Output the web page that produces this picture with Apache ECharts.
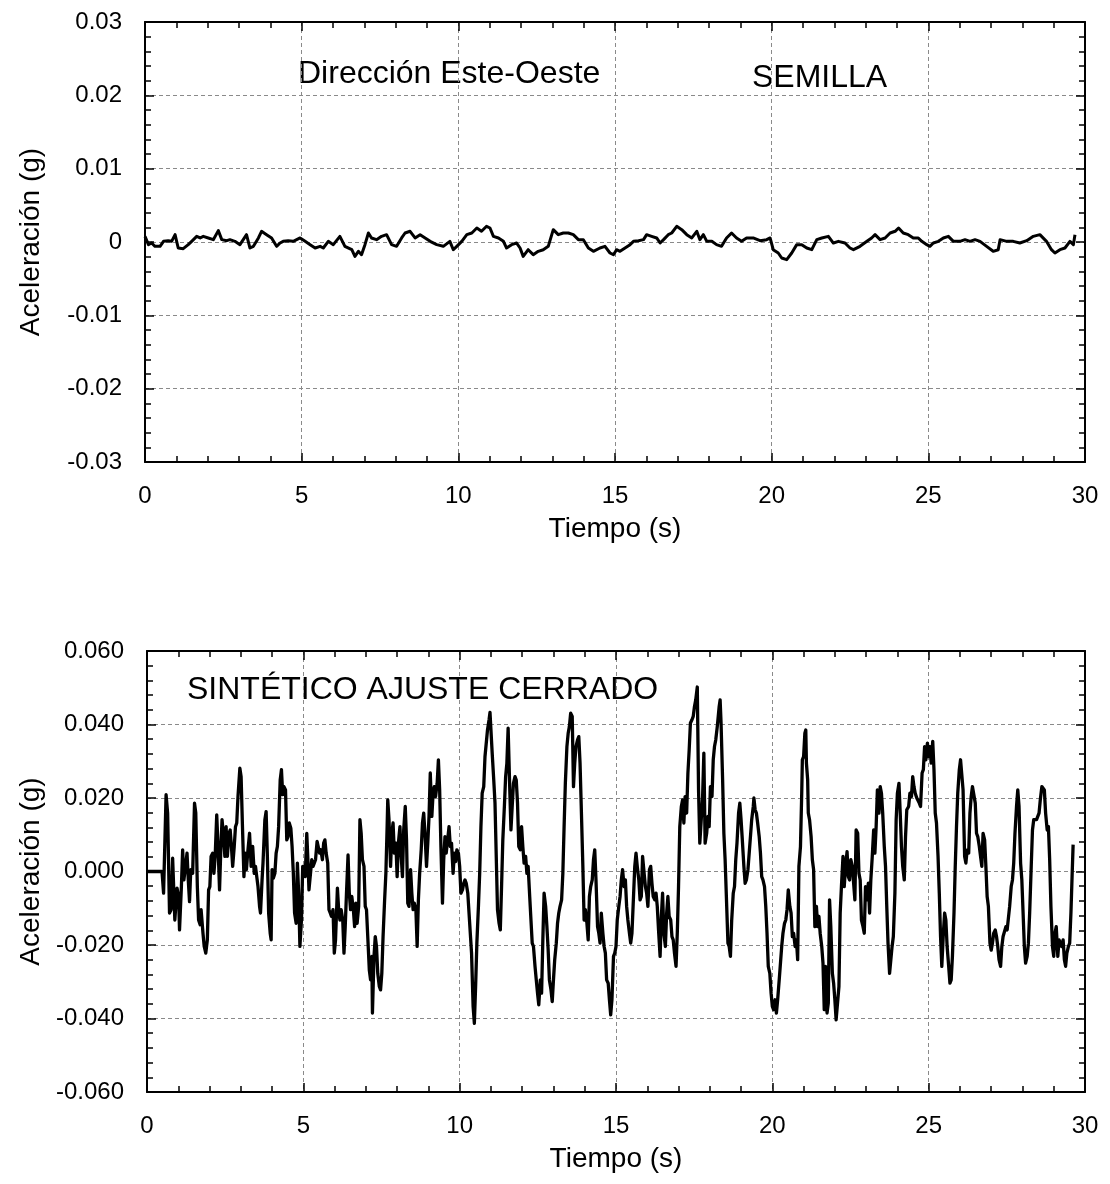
<!DOCTYPE html>
<html>
<head>
<meta charset="utf-8">
<script src="https://cdn.jsdelivr.net/npm/echarts@6/dist/echarts.min.js"></script>
<style>
  html, body { margin: 0; padding: 0; background: #fff; }
  #chart { width: 1110px; height: 1184px; }
</style>
</head>
<body>
<div id="chart"></div>
<script>
// Seed record, east-west component: [time (s), acceleration (g)]
const semillaRecord = [
  [0.00,0.00077],[0.11,-0.00036],[0.21,-0.00014],[0.32,-0.00059],[0.48,-0.00059],[0.59,0.00009],[0.74,0.00018],[0.85,0.00009],[0.96,0.00100],[1.06,-0.00082],
  [1.22,-0.00091],[1.38,-0.00036],[1.49,0.00009],[1.65,0.00077],[1.76,0.00055],[1.86,0.00077],[2.02,0.00055],[2.18,0.00032],[2.34,0.00155],[2.45,0.00032],
  [2.61,0.00018],[2.71,0.00032],[2.87,0.00009],[3.03,-0.00036],[3.24,0.00100],[3.35,-0.00082],[3.46,-0.00059],[3.62,0.00055],[3.72,0.00146],[3.88,0.00100],
  [4.04,0.00055],[4.20,-0.00059],[4.31,-0.00014],[4.41,0.00009],[4.57,0.00018],[4.73,0.00009],[4.95,0.00055],[5.11,0.00009],[5.27,-0.00036],[5.43,-0.00082],
  [5.59,-0.00059],[5.69,-0.00082],[5.85,0.00009],[6.01,-0.00036],[6.22,0.00077],[6.38,-0.00059],[6.60,-0.00105],[6.70,-0.00196],[6.81,-0.00127],[6.91,-0.00173],
  [7.02,-0.00036],[7.13,0.00123],[7.23,0.00055],[7.39,0.00032],[7.55,0.00077],[7.71,0.00100],[7.87,-0.00036],[8.03,-0.00059],[8.19,0.00055],[8.30,0.00123],
  [8.46,0.00146],[8.62,0.00055],[8.78,0.00100],[8.94,0.00055],[9.10,0.00009],[9.31,-0.00036],[9.52,-0.00059],[9.73,0.00009],[9.84,-0.00105],[9.95,-0.00059],
  [10.11,0.00009],[10.27,0.00100],[10.43,0.00123],[10.59,0.00191],[10.74,0.00146],[10.90,0.00214],[11.01,0.00191],[11.12,0.00077],[11.28,0.00055],[11.44,0.00009],
  [11.54,-0.00082],[11.70,-0.00036],[11.86,-0.00014],[11.97,-0.00082],[12.07,-0.00196],[12.23,-0.00105],[12.39,-0.00173],[12.55,-0.00127],[12.71,-0.00105],[12.87,-0.00059],
  [13.03,0.00168],[13.19,0.00100],[13.35,0.00123],[13.51,0.00123],[13.67,0.00100],[13.83,0.00032],[13.99,0.00032],[14.15,-0.00082],[14.31,-0.00127],[14.52,-0.00082],
  [14.68,-0.00059],[14.84,-0.00150],[14.95,-0.00173],[15.05,-0.00105],[15.16,-0.00127],[15.32,-0.00082],[15.48,-0.00036],[15.59,0.00009],[15.75,0.00018],[15.91,0.00032],
  [16.01,0.00100],[16.17,0.00077],[16.33,0.00055],[16.44,-0.00014],[16.55,0.00032],[16.70,0.00100],[16.81,0.00123],[16.97,0.00214],[17.13,0.00168],[17.29,0.00100],
  [17.45,0.00055],[17.61,0.00146],[17.71,0.00032],[17.82,0.00100],[17.93,0.00009],[18.09,0.00009],[18.24,-0.00036],[18.40,-0.00059],[18.56,0.00055],[18.72,0.00123],
  [18.88,0.00055],[19.04,0.00009],[19.20,0.00055],[19.41,0.00055],[19.63,0.00018],[19.84,0.00032],[19.95,0.00055],[20.05,-0.00105],[20.21,-0.00150],[20.32,-0.00218],
  [20.48,-0.00241],[20.64,-0.00150],[20.80,-0.00036],[20.96,-0.00036],[21.12,-0.00082],[21.28,-0.00105],[21.44,0.00032],[21.60,0.00055],[21.81,0.00077],[21.97,-0.00014],
  [22.13,0.00009],[22.34,-0.00014],[22.50,-0.00082],[22.61,-0.00105],[22.82,-0.00059],[23.04,0.00009],[23.19,0.00055],[23.30,0.00100],[23.46,0.00032],[23.62,0.00055],
  [23.78,0.00123],[23.94,0.00146],[24.05,0.00191],[24.20,0.00123],[24.36,0.00100],[24.52,0.00055],[24.68,0.00055],[24.79,0.00009],[24.95,-0.00036],[25.05,-0.00059],
  [25.16,-0.00014],[25.32,0.00009],[25.48,0.00055],[25.64,0.00077],[25.80,0.00009],[26.01,0.00009],[26.17,0.00032],[26.33,0.00009],[26.49,0.00032],[26.65,0.00009],
  [26.86,-0.00059],[27.07,-0.00127],[27.23,-0.00105],[27.29,0.00032],[27.50,0.00009],[27.71,0.00009],[27.92,-0.00014],[28.14,0.00018],[28.35,0.00077],[28.56,0.00100],
  [28.77,0.00009],[28.93,-0.00105],[29.04,-0.00150],[29.20,-0.00105],[29.36,-0.00082],[29.52,0.00009],[29.63,-0.00036],[29.68,0.00100]
];

// Synthetic record (closely fitted spectrum): [time (s), acceleration (g)]
const sinteticoRecord = [
  [0,0],[0.48,0],[0.53,-0.0059],[0.61,0.0209],[0.66,0.0159],[0.72,-0.0113],[0.77,-0.0104],[0.82,0.0036],[0.85,0.0032],[0.89,-0.0132],
  [0.96,-0.0045],[1.01,-0.0068],[1.04,-0.0159],[1.10,-0.0041],[1.14,0.0059],[1.18,-0.0023],[1.23,-0.0018],[1.28,0.0050],[1.32,-0.0023],[1.36,-0.0082],
  [1.40,0.0005],[1.46,-0.0005],[1.52,0.0186],[1.56,0.0159],[1.61,-0.0041],[1.65,-0.0132],[1.70,-0.0145],[1.73,-0.0104],[1.79,-0.0168],[1.83,-0.0204],
  [1.88,-0.0222],[1.93,-0.0186],[1.97,-0.0050],[2.01,-0.0041],[2.05,0.0041],[2.10,0.0050],[2.14,-0.0005],[2.18,0.0041],[2.23,0.0154],[2.28,0.0050],
  [2.32,-0.0050],[2.36,0.0059],[2.40,0.0141],[2.45,0.0095],[2.49,0.0041],[2.53,0.0122],[2.57,0.0041],[2.62,0.0104],[2.66,0.0113],[2.70,0.0068],
  [2.74,0.0014],[2.79,0.0068],[2.83,0.0122],[2.87,0.0132],[2.91,0.0204],[2.97,0.0281],[3.01,0.0258],[3.05,0.0132],[3.10,-0.0014],[3.14,0.0050],
  [3.18,0.0005],[3.22,0.0050],[3.28,0.0104],[3.33,0.0014],[3.38,0.0068],[3.43,-0.0005],[3.47,0.0014],[3.51,-0.0014],[3.55,-0.0041],[3.60,-0.0095],
  [3.63,-0.0113],[3.68,-0.0023],[3.71,0.0023],[3.77,0.0141],[3.81,0.0163],[3.85,0.0041],[3.89,-0.0113],[3.94,-0.0168],[3.97,-0.0186],[4.00,0.0005],
  [4.04,-0.0018],[4.09,-0.0005],[4.13,0.0050],[4.17,0.0068],[4.21,0.0122],[4.26,0.0249],[4.30,0.0277],[4.34,0.0209],[4.38,0.0231],[4.43,0.0222],
  [4.47,0.0086],[4.51,0.0095],[4.55,0.0132],[4.60,0.0118],[4.64,0.0068],[4.68,-0.0005],[4.72,-0.0113],[4.77,-0.0141],[4.81,0.0023],[4.85,-0.0059],
  [4.89,-0.0204],[4.94,-0.0132],[4.98,0.0014],[5.02,0.0014],[5.06,-0.0014],[5.11,0.0104],[5.15,0.0023],[5.18,-0.0050],[5.22,-0.0050],[5.27,0.0032],
  [5.31,0.0014],[5.35,0.0023],[5.39,0.0032],[5.44,0.0082],[5.48,0.0077],[5.52,0.0050],[5.56,0.0059],[5.61,0.0032],[5.65,0.0077],[5.69,0.0086],
  [5.73,0.0050],[5.78,0.0023],[5.82,-0.0104],[5.86,-0.0113],[5.90,-0.0122],[5.95,-0.0104],[5.99,-0.0222],[6.03,-0.0186],[6.09,-0.0045],[6.13,-0.0104],
  [6.17,-0.0132],[6.21,-0.0104],[6.26,-0.0132],[6.30,-0.0222],[6.34,-0.0150],[6.38,-0.0059],[6.43,0.0045],[6.47,-0.0059],[6.51,-0.0104],[6.55,-0.0068],
  [6.60,-0.0104],[6.64,-0.0150],[6.68,-0.0086],[6.72,-0.0141],[6.77,-0.0095],[6.81,0.0141],[6.85,0.0104],[6.89,0.0032],[6.94,0.0014],[6.98,-0.0095],
  [7.02,-0.0104],[7.06,-0.0177],[7.11,-0.0268],[7.15,-0.0295],[7.19,-0.0231],[7.21,-0.0385],[7.26,-0.0231],[7.30,-0.0177],[7.34,-0.0204],[7.38,-0.0277],
  [7.43,-0.0313],[7.47,-0.0322],[7.51,-0.0277],[7.55,-0.0177],[7.60,-0.0077],[7.64,-0.0005],[7.68,0.0122],[7.70,0.0195],[7.74,0.0141],[7.79,0.0014],
  [7.83,0.0104],[7.87,0.0132],[7.91,0.0050],[7.96,0.0077],[8.00,-0.0014],[8.04,0.0077],[8.09,0.0122],[8.13,0.0041],[8.17,-0.0014],[8.21,0.0113],
  [8.26,0.0177],[8.30,0.0086],[8.34,-0.0086],[8.38,-0.0095],[8.43,0.0005],[8.47,-0.0059],[8.51,-0.0104],[8.55,-0.0086],[8.60,-0.0104],[8.64,-0.0204],
  [8.68,-0.0077],[8.72,-0.0005],[8.77,0.0059],[8.81,0.0132],[8.85,0.0159],[8.89,0.0104],[8.94,0.0014],[8.98,0.0077],[9.02,0.0150],[9.06,0.0268],
  [9.11,0.0150],[9.15,0.0213],[9.19,0.0231],[9.23,0.0204],[9.28,0.0240],[9.32,0.0304],[9.36,0.0222],[9.40,0.0068],[9.45,-0.0086],[9.49,0.0032],
  [9.53,0.0095],[9.57,0.0050],[9.62,0.0050],[9.66,0.0122],[9.70,0.0068],[9.74,0.0077],[9.79,-0.0005],[9.83,0.0050],[9.87,0.0027],[9.91,0.0059],
  [9.96,0.0050],[10.00,0.0014],[10.04,-0.0059],[10.09,-0.0050],[10.13,-0.0032],[10.17,-0.0023],[10.21,-0.0032],[10.26,-0.0059],[10.30,-0.0113],[10.34,-0.0168],
  [10.38,-0.0222],[10.43,-0.0367],[10.47,-0.0413],[10.51,-0.0313],[10.55,-0.0195],[10.60,-0.0095],[10.64,-0.0005],[10.68,0.0122],[10.72,0.0213],[10.77,0.0231],
  [10.81,0.0313],[10.85,0.0349],[10.89,0.0385],[10.94,0.0413],[10.97,0.0433],[11.00,0.0431],[11.04,0.0322],[11.09,0.0249],[11.13,0.0186],[11.17,0.0041],
  [11.21,-0.0104],[11.26,-0.0141],[11.30,-0.0159],[11.34,-0.0041],[11.38,0.0086],[11.43,0.0177],[11.47,0.0258],[11.51,0.0295],[11.55,0.0390],[11.60,0.0231],
  [11.64,0.0113],[11.68,0.0177],[11.72,0.0240],[11.77,0.0258],[11.81,0.0249],[11.85,0.0186],[11.89,0.0068],[11.94,0.0059],[11.98,0.0122],[12.02,0.0068],
  [12.06,0.0023],[12.11,0.0041],[12.15,-0.0005],[12.19,0.0014],[12.24,-0.0068],[12.28,-0.0132],[12.32,-0.0195],[12.36,-0.0204],[12.41,-0.0258],[12.45,-0.0295],
  [12.49,-0.0331],[12.53,-0.0363],[12.58,-0.0295],[12.62,-0.0331],[12.66,-0.0186],[12.70,-0.0059],[12.75,-0.0095],[12.79,-0.0150],[12.83,-0.0213],[12.87,-0.0295],
  [12.92,-0.0322],[12.96,-0.0354],[13.00,-0.0295],[13.04,-0.0240],[13.09,-0.0195],[13.13,-0.0141],[13.17,-0.0113],[13.21,-0.0095],[13.26,-0.0077],[13.30,-0.0005],
  [13.34,0.0122],[13.38,0.0240],[13.43,0.0340],[13.47,0.0376],[13.51,0.0395],[13.55,0.0431],[13.60,0.0422],[13.64,0.0231],[13.68,0.0295],[13.72,0.0340],
  [13.77,0.0358],[13.81,0.0367],[13.85,0.0295],[13.90,0.0141],[13.94,0.0014],[13.98,-0.0132],[14.02,-0.0104],[14.07,-0.0141],[14.11,-0.0186],[14.15,-0.0068],
  [14.19,-0.0041],[14.24,-0.0023],[14.28,0.0032],[14.32,0.0059],[14.36,-0.0023],[14.41,-0.0150],[14.45,-0.0168],[14.49,-0.0195],[14.53,-0.0113],[14.58,-0.0168],
  [14.62,-0.0204],[14.66,-0.0222],[14.70,-0.0295],[14.75,-0.0304],[14.79,-0.0349],[14.83,-0.0390],[14.87,-0.0349],[14.92,-0.0231],[14.96,-0.0222],[15.00,-0.0204],
  [15.04,-0.0132],[15.09,-0.0095],[15.13,-0.0068],[15.17,-0.0023],[15.21,0.0005],[15.26,-0.0041],[15.30,-0.0023],[15.34,-0.0095],[15.38,-0.0132],[15.43,-0.0168],
  [15.47,-0.0195],[15.51,-0.0168],[15.56,-0.0068],[15.60,0.0014],[15.64,0.0050],[15.68,0.0014],[15.73,-0.0023],[15.77,-0.0077],[15.81,-0.0068],[15.85,0.0041],
  [15.90,-0.0005],[15.94,-0.0041],[15.98,-0.0059],[16.02,-0.0095],[16.07,0.0005],[16.11,0.0014],[16.15,-0.0032],[16.19,-0.0068],[16.24,-0.0077],[16.28,-0.0059],
  [16.32,-0.0095],[16.36,-0.0159],[16.41,-0.0231],[16.45,-0.0123],[16.49,-0.0059],[16.53,-0.0168],[16.58,-0.0204],[16.62,-0.0113],[16.66,-0.0068],[16.70,-0.0122],
  [16.75,-0.0132],[16.79,-0.0177],[16.83,-0.0186],[16.87,-0.0222],[16.92,-0.0258],[16.96,-0.0168],[17.00,-0.0041],[17.04,0.0122],[17.09,0.0177],[17.13,0.0195],
  [17.17,0.0132],[17.21,0.0204],[17.26,0.0159],[17.30,0.0268],[17.34,0.0330],[17.38,0.0404],[17.43,0.0413],[17.47,0.0422],[17.51,0.0449],[17.55,0.0467],
  [17.60,0.0502],[17.64,0.0222],[17.68,0.0077],[17.72,0.0132],[17.77,0.0204],[17.81,0.0322],[17.85,0.0077],[17.90,0.0104],[17.94,0.0150],[17.98,0.0122],
  [18.02,0.0231],[18.07,0.0204],[18.11,0.0304],[18.15,0.0340],[18.19,0.0358],[18.24,0.0395],[18.26,0.0413],[18.30,0.0449],[18.33,0.0467],[18.36,0.0404],
  [18.41,0.0249],[18.45,0.0104],[18.49,0.0032],[18.53,-0.0068],[18.58,-0.0195],[18.62,-0.0204],[18.66,-0.0231],[18.70,-0.0133],[18.75,-0.0059],[18.79,-0.0041],
  [18.83,0.0032],[18.87,0.0078],[18.92,0.0159],[18.96,0.0186],[19.00,0.0141],[19.04,0.0086],[19.09,0.0014],[19.13,-0.0032],[19.17,-0.0023],[19.22,0.0005],
  [19.26,0.0050],[19.30,0.0095],[19.34,0.0141],[19.39,0.0177],[19.41,0.0200],[19.45,0.0168],[19.49,0.0159],[19.53,0.0132],[19.58,0.0095],[19.62,0.0050],
  [19.66,-0.0014],[19.70,-0.0023],[19.75,-0.0041],[19.79,-0.0095],[19.83,-0.0168],[19.87,-0.0258],[19.92,-0.0277],[19.96,-0.0331],[20.00,-0.0367],[20.04,-0.0376],
  [20.09,-0.0349],[20.13,-0.0385],[20.17,-0.0349],[20.22,-0.0295],[20.26,-0.0249],[20.30,-0.0204],[20.34,-0.0168],[20.39,-0.0141],[20.43,-0.0132],[20.47,-0.0104],
  [20.51,-0.0050],[20.56,-0.0095],[20.60,-0.0113],[20.64,-0.0177],[20.68,-0.0168],[20.73,-0.0204],[20.77,-0.0186],[20.81,-0.0240],[20.85,0.0014],[20.90,0.0068],
  [20.94,0.0213],[20.96,0.0304],[21.00,0.0313],[21.04,0.0376],[21.07,0.0385],[21.09,0.0295],[21.13,0.0249],[21.15,0.0159],[21.19,0.0141],[21.24,0.0095],
  [21.28,0.0032],[21.32,0.0005],[21.36,-0.0150],[21.41,-0.0095],[21.45,-0.0150],[21.49,-0.0122],[21.53,-0.0168],[21.58,-0.0204],[21.62,-0.0249],[21.66,-0.0376],
  [21.70,-0.0258],[21.75,-0.0385],[21.79,-0.0358],[21.83,-0.0077],[21.87,-0.0150],[21.92,-0.0277],[21.96,-0.0304],[22.00,-0.0349],[22.04,-0.0404],[22.09,-0.0408],
  [22.13,-0.0313],[22.17,-0.0113],[22.21,-0.0041],[22.26,0.0041],[22.30,-0.0041],[22.34,0.0014],[22.39,0.0054],[22.43,-0.0014],[22.47,-0.0023],[22.51,0.0032],
  [22.56,0.0014],[22.60,-0.0032],[22.64,-0.0077],[22.68,0.0113],[22.73,0.0104],[22.77,-0.0005],[22.81,-0.0023],[22.85,-0.0132],[22.90,-0.0150],[22.94,-0.0168],
  [22.98,-0.0041],[23.02,-0.0077],[23.07,-0.0032],[23.11,-0.0113],[23.15,-0.0023],[23.19,0.0032],[23.24,0.0113],[23.28,0.0050],[23.32,0.0122],[23.36,0.0222],
  [23.41,0.0159],[23.45,0.0231],[23.49,0.0213],[23.53,0.0159],[23.58,0.0068],[23.62,0.0014],[23.66,-0.0095],[23.70,-0.0195],[23.75,-0.0277],[23.79,-0.0277],
  [23.83,-0.0204],[23.87,-0.0177],[23.92,-0.0059],[23.96,0.0141],[24.00,0.0213],[24.05,0.0240],[24.09,0.0159],[24.13,0.0068],[24.17,0.0014],[24.22,-0.0023],
  [24.26,0.0095],[24.30,0.0168],[24.36,0.0177],[24.40,0.0213],[24.45,0.0204],[24.49,0.0258],[24.53,0.0231],[24.57,0.0213],[24.62,0.0200],[24.66,0.0200],
  [24.70,0.0186],[24.74,0.0177],[24.79,0.0268],[24.83,0.0277],[24.87,0.0340],[24.91,0.0304],[24.96,0.0349],[25.00,0.0313],[25.04,0.0340],[25.08,0.0295],
  [25.13,0.0354],[25.17,0.0277],[25.21,0.0159],[25.25,0.0132],[25.30,0.0041],[25.34,-0.0059],[25.38,-0.0177],[25.42,-0.0258],[25.47,-0.0168],[25.51,-0.0113],
  [25.55,-0.0132],[25.59,-0.0204],[25.64,-0.0258],[25.68,-0.0304],[25.72,-0.0295],[25.76,-0.0231],[25.81,-0.0113],[25.85,0.0014],[25.89,0.0122],[25.93,0.0213],
  [25.98,0.0277],[26.02,0.0304],[26.06,0.0308],[26.10,0.0222],[26.15,0.0041],[26.19,0.0023],[26.23,0.0058],[26.28,0.0050],[26.32,0.0159],[26.36,0.0204],
  [26.40,0.0231],[26.45,0.0231],[26.49,0.0186],[26.53,0.0104],[26.57,0.0095],[26.62,0.0068],[26.66,0.0041],[26.70,0.0014],[26.74,0.0104],[26.79,0.0086],
  [26.83,0.0014],[26.87,-0.0068],[26.91,-0.0095],[26.96,-0.0195],[27.00,-0.0214],[27.04,-0.0195],[27.08,-0.0168],[27.13,-0.0159],[27.17,-0.0177],[27.21,-0.0204],
  [27.25,-0.0240],[27.30,-0.0258],[27.34,-0.0204],[27.38,-0.0177],[27.42,-0.0172],[27.47,-0.0150],[27.51,-0.0159],[27.55,-0.0159],[27.59,-0.0095],[27.64,-0.0041],
  [27.68,-0.0023],[27.72,0.0023],[27.76,0.0104],[27.81,0.0177],[27.85,0.0222],[27.89,0.0177],[27.94,0.0023],[27.98,-0.0023],[28.02,-0.0113],[28.06,-0.0204],
  [28.10,-0.0249],[28.15,-0.0231],[28.19,-0.0195],[28.23,-0.0113],[28.28,0.0014],[28.32,0.0113],[28.36,0.0141],[28.40,0.0141],[28.45,0.0141],[28.49,0.0150],
  [28.53,0.0159],[28.57,0.0195],[28.62,0.0231],[28.66,0.0236],[28.70,0.0222],[28.74,0.0159],[28.79,0.0113],[28.83,0.0122],[28.87,0.0032],[28.91,-0.0095],
  [28.96,-0.0204],[29.00,-0.0231],[29.04,-0.0168],[29.08,-0.0150],[29.13,-0.0231],[29.17,-0.0186],[29.21,-0.0195],[29.25,-0.0204],[29.30,-0.0186],[29.34,-0.0240],
  [29.38,-0.0258],[29.42,-0.0222],[29.47,-0.0204],[29.51,-0.0195],[29.55,-0.0113],[29.59,-0.0005],[29.62,0.0073]
];

// Axis ranges: [min, max, interval]
const timeRange = [0, 30, 5];
const semillaRange = [-0.03, 0.03, 0.01];
const sinteticoRange = [-0.06, 0.06, 0.02];

const FONT = '"Liberation Sans", Arial, Helvetica, sans-serif';
const BLACK = '#000';

// Bottom axis with labels and grid, plus a mirrored top axis carrying inward ticks only
function xAxisPair(gridIndex) {
  const common = {
    type: 'value', gridIndex: gridIndex,
    min: timeRange[0], max: timeRange[1], interval: timeRange[2],
    axisLine: { show: true, onZero: false, lineStyle: { color: BLACK, width: 2 } },
    axisTick: { show: true, inside: true, length: 9, lineStyle: { color: BLACK, width: 1.5 } },
    minorTick: { show: true, splitNumber: 5, length: 6, lineStyle: { color: BLACK, width: 1.5 } }
  };
  return [
    Object.assign({}, common, {
      position: 'bottom',
      splitLine: { show: true, lineStyle: { color: '#8a8a8a', width: 1, type: [4, 3] } },
      axisLabel: { color: BLACK, fontSize: 24, fontFamily: FONT, margin: 22 },
      name: 'Tiempo (s)', nameLocation: 'middle', nameGap: 53,
      nameTextStyle: { color: BLACK, fontSize: 28, fontFamily: FONT }
    }),
    Object.assign({}, common, {
      position: 'top',
      splitLine: { show: false },
      axisLabel: { show: false }
    })
  ];
}

// Left axis with labels and grid, plus a mirrored right axis carrying inward ticks only
function yAxisPair(gridIndex, range, fmt) {
  const common = {
    type: 'value', gridIndex: gridIndex,
    min: range[0], max: range[1], interval: range[2],
    axisLine: { show: true, onZero: false, lineStyle: { color: BLACK, width: 2 } },
    axisTick: { show: true, inside: true, length: 9, lineStyle: { color: BLACK, width: 1.5 } },
    minorTick: { show: true, splitNumber: 5, length: 6, lineStyle: { color: BLACK, width: 1.5 } }
  };
  return [
    Object.assign({}, common, {
      position: 'left',
      splitLine: { show: true, lineStyle: { color: '#8a8a8a', width: 1, type: [4, 3] } },
      axisLabel: { color: BLACK, fontSize: 24, fontFamily: FONT, margin: 23, formatter: fmt },
      name: 'Aceleración (g)', nameLocation: 'middle', nameGap: 100,
      nameTextStyle: { color: BLACK, fontSize: 28, fontFamily: FONT }
    }),
    Object.assign({}, common, {
      position: 'right',
      splitLine: { show: false },
      axisLabel: { show: false }
    })
  ];
}

const fmtTop = v => Math.abs(v) < 1e-9 ? '0' : v.toFixed(2);
const fmtBottom = v => (Math.abs(v) < 1e-9 ? 0 : v).toFixed(3);

const chart = echarts.init(document.getElementById('chart'), null, { renderer: 'canvas' });

chart.setOption({
  backgroundColor: '#fff',
  animation: false,
  grid: [
    { left: 145, top: 22, width: 940, height: 440 },
    { left: 147, top: 651, width: 938, height: 441 }
  ],
  xAxis: xAxisPair(0).concat(xAxisPair(1)),
  yAxis: yAxisPair(0, semillaRange, fmtTop).concat(yAxisPair(1, sinteticoRange, fmtBottom)),
  series: [
    {
      name: 'Semilla', type: 'line', xAxisIndex: 0, yAxisIndex: 0,
      data: semillaRecord, showSymbol: false, smooth: false,
      lineStyle: { color: BLACK, width: 3, join: 'round' }
    },
    {
      name: 'Sintético', type: 'line', xAxisIndex: 2, yAxisIndex: 2,
      data: sinteticoRecord, showSymbol: false, smooth: false,
      lineStyle: { color: BLACK, width: 3.3, join: 'round' }
    }
  ],
  graphic: [
    { type: 'text', x: 298, y: 74, style: { text: 'Dirección Este-Oeste', font: '32px ' + FONT, fill: BLACK, verticalAlign: 'middle' } },
    { type: 'text', x: 752, y: 78, style: { text: 'SEMILLA', font: '32px ' + FONT, fill: BLACK, verticalAlign: 'middle' } },
    { type: 'text', x: 187, y: 690, style: { text: 'SINTÉTICO AJUSTE CERRADO', font: '32px ' + FONT, fill: BLACK, verticalAlign: 'middle' } }
  ]
});
</script>
</body>
</html>
